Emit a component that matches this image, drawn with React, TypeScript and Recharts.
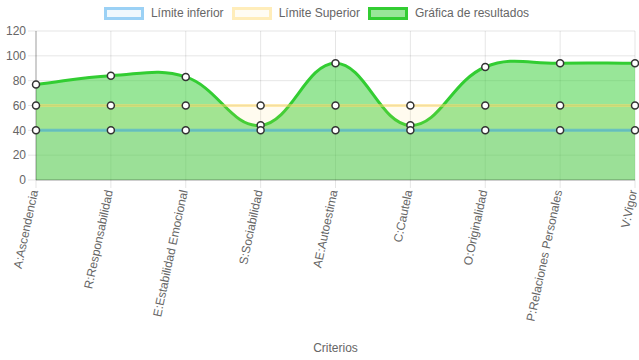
import React from 'react';
import { AreaChart, Area, XAxis, YAxis, CartesianGrid, Legend } from 'recharts';

const categories = [
  'A:Ascendencia',
  'R:Responsabilidad',
  'E:Estabilidad Emocional',
  'S:Sociabilidad',
  'AE:Autoestima',
  'C:Cautela',
  'O:Originalidad',
  'P:Relaciones Personales',
  'V:Vigor',
];
const limiteInferior = [40, 40, 40, 40, 40, 40, 40, 40, 40];
const limiteSuperior = [60, 60, 60, 60, 60, 60, 60, 60, 60];
const resultados = [77, 84, 83, 44, 94, 44, 91, 94, 94];
const yTicks = [0, 20, 40, 60, 80, 100, 120];

const data = categories.map((c, i) => ({
  name: c,
  inf: limiteInferior[i],
  sup: limiteSuperior[i],
  res: resultados[i],
}));

const FONT = '"Liberation Sans", Arial, Helvetica, sans-serif';

// Chart.js-like spline (tension 0.4)
function chartJsCurve(context: any) {
  let pts: [number, number][] = [];
  let line = NaN;
  const t = 0.4;
  return {
    areaStart() { line = 0; },
    areaEnd() { line = NaN; },
    lineStart() { pts = []; },
    point(x: number, y: number) { pts.push([+x, +y]); },
    lineEnd() {
      const n = pts.length;
      if (n) {
        const [x0, y0] = pts[0];
        if (line) context.lineTo(x0, y0); else context.moveTo(x0, y0);
        const cps = pts.map((p, i) => {
          const prev = pts[i - 1] || p;
          const next = pts[i + 1] || p;
          const d01 = Math.hypot(p[0] - prev[0], p[1] - prev[1]);
          const d12 = Math.hypot(next[0] - p[0], next[1] - p[1]);
          let s01 = d01 / (d01 + d12);
          let s12 = d12 / (d01 + d12);
          if (!isFinite(s01)) s01 = 0;
          if (!isFinite(s12)) s12 = 0;
          const fa = t * s01;
          const fb = t * s12;
          return {
            px: p[0] - fa * (next[0] - prev[0]),
            py: p[1] - fa * (next[1] - prev[1]),
            nx: p[0] + fb * (next[0] - prev[0]),
            ny: p[1] + fb * (next[1] - prev[1]),
          };
        });
        for (let i = 1; i < n; i++) {
          context.bezierCurveTo(cps[i - 1].nx, cps[i - 1].ny, cps[i].px, cps[i].py, pts[i][0], pts[i][1]);
        }
      }
      if (line || (line !== 0 && n === 1)) context.closePath();
      line = 1 - line;
    },
  };
}

const legendItems = [
  { label: 'Límite inferior', stroke: 'rgba(54,162,235,0.45)', fill: 'rgba(54,162,235,0.08)' },
  { label: 'Límite Superior', stroke: 'rgba(255,215,100,0.4)', fill: 'rgba(255,215,100,0.08)' },
  { label: 'Gráfica de resultados', stroke: 'rgb(50,205,50)', fill: 'rgba(50,205,50,0.5)' },
];

const LegendContent = () => (
  <div style={{ display: 'flex', justifyContent: 'center', alignItems: 'center', height: 18, fontFamily: FONT, fontSize: 12, color: '#666', paddingRight: 14 }}>
    {legendItems.map((it) => (
      <div key={it.label} style={{ display: 'flex', alignItems: 'center', marginLeft: 8 }}>
        <div style={{ width: 34, height: 7, border: `3px solid ${it.stroke}`, background: it.fill, marginRight: 7 }} />
        <span>{it.label}</span>
      </div>
    ))}
  </div>
);

const XTick = (props: any) => {
  const { x, y, payload } = props;
  return (
    <g transform={`translate(${x - 2},${y})`}>
      <text transform="rotate(-78)" textAnchor="end" dy="0.35em" fill="#666" fontSize={12} fontFamily={FONT}>
        {payload.value}
      </text>
    </g>
  );
};

const dot = { r: 3.5, fill: '#fff', stroke: '#333', strokeWidth: 1.5 };

export default function App() {
  return (
    <div style={{ position: 'absolute', left: 0, top: 0 }}>
      <AreaChart width={639} height={360} data={data} margin={{ top: 13, right: 4, bottom: 0, left: 0 }}>
        <Legend verticalAlign="top" align="center" content={<LegendContent />} wrapperStyle={{ top: 4, left: 0, width: 639, height: 18 }} />
        <CartesianGrid stroke="rgba(0,0,0,0.1)" />
        <XAxis
          dataKey="name"
          interval={0}
          height={180}
          tick={<XTick />}
          tickSize={8}
          tickMargin={2}
          tickLine={{ stroke: 'rgba(0,0,0,0.1)' }}
          axisLine={{ stroke: 'rgba(0,0,0,0.3)' }}
          label={{ value: 'Criterios', position: 'insideBottom', offset: 8, fill: '#666', fontSize: 12, fontFamily: FONT }}
        />
        <YAxis
          domain={[0, 120]}
          ticks={yTicks}
          width={36}
          tickSize={8}
          tickMargin={2}
          tick={{ fill: '#666', fontSize: 12, fontFamily: FONT }}
          tickLine={{ stroke: 'rgba(0,0,0,0.1)' }}
          axisLine={{ stroke: 'rgba(0,0,0,0.3)' }}
        />
        <Area
          dataKey="res"
          type={chartJsCurve as any}
          stroke="rgb(50,205,50)"
          strokeWidth={3}
          fill="rgba(50,205,50,0.5)"
          fillOpacity={1}
          dot={dot}
          activeDot={false}
          isAnimationActive={false}
        />
        <Area
          dataKey="sup"
          type="linear"
          stroke="rgba(255,215,100,0.5)"
          strokeWidth={3}
          fill="rgba(255,215,100,0.1)"
          fillOpacity={1}
          dot={dot}
          activeDot={false}
          isAnimationActive={false}
        />
        <Area
          dataKey="inf"
          type="linear"
          stroke="rgba(54,162,235,0.5)"
          strokeWidth={3}
          fill="rgba(54,162,235,0.06)"
          fillOpacity={1}
          dot={dot}
          activeDot={false}
          isAnimationActive={false}
        />
      </AreaChart>
    </div>
  );
}
